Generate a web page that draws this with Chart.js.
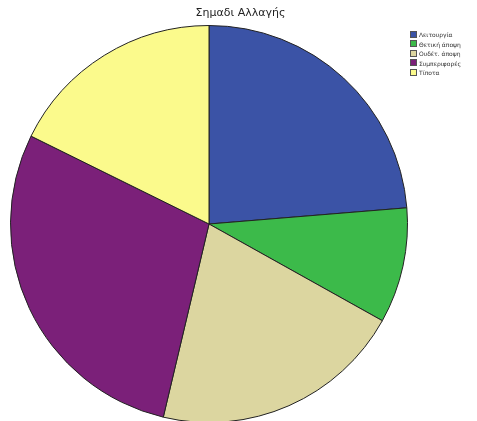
<!DOCTYPE html>
<html>
<head>
<meta charset="utf-8">
<script src="https://cdn.jsdelivr.net/npm/chart.js@4"></script>
<style>
  html, body { margin: 0; padding: 0; background: #fff; overflow: hidden; }
  #wrap { position: relative; width: 477px; height: 430px; }
  #titulo { position: absolute; left: 0; width: 477px; top: 6px; text-align: center;
            font-family: "DejaVu Sans", sans-serif; font-size: 11px; color: #222; margin-left: 2px; }
  #legenda { position: absolute; left: 410px; top: 30px; font-family: "DejaVu Sans", sans-serif;
             font-size: 6px; color: #333; line-height: 9.5px; }
  #legenda div { white-space: nowrap; }
  #legenda span { display: inline-block; width: 5px; height: 5px; border: 0.5px solid #555;
                  margin-right: 2px; vertical-align: -0.5px; }
</style>
</head>
<body>
<div id="wrap">
  <canvas id="grafico" width="477" height="430"></canvas>
  <div id="titulo">Σημαδι Αλλαγής</div>
  <div id="legenda"></div>
</div>
<script>
// --- DADOS ---
const CATEGORIAS = ["Λειτουργία", "Θετική άποψη", "Ουδέτ. άποψη", "Συμπεριφορές", "Τίποτα"];
const VALORES = [23.7, 9.4, 20.6, 28.6, 17.7];
const CORES = ["#3b53a6", "#3cba4a", "#dcd6a0", "#7b2079", "#fbfa8c"];

// legenda em HTML (texto real)
const legenda = document.getElementById('legenda');
CATEGORIAS.forEach((nome, i) => {
    const linha = document.createElement('div');
    linha.innerHTML = '<span style="background:' + CORES[i] + '"></span>' + nome;
    legenda.appendChild(linha);
});

new Chart(document.getElementById('grafico').getContext('2d'), {
    type: 'pie',
    data: {
        labels: CATEGORIAS,
        datasets: [{
            data: VALORES,
            backgroundColor: CORES,
            borderColor: '#222',
            borderWidth: 1
        }]
    },
    options: {
        responsive: false,
        animation: false,
        layout: { padding: { left: 10, right: 69, top: 25, bottom: 7 } },
        plugins: {
            legend: { display: false },
            tooltip: { enabled: false }
        }
    }
});
</script>
</body>
</html>
